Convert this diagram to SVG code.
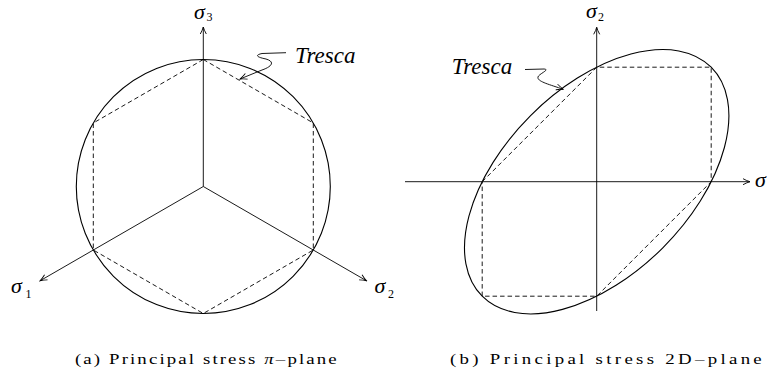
<svg xmlns="http://www.w3.org/2000/svg" width="767" height="379" viewBox="0 0 767 379">
<style>
.solid{fill:none;stroke:#000;stroke-width:1.1}
.axis{fill:none;stroke:#000;stroke-width:0.9}
.dash{fill:none;stroke:#000;stroke-width:0.9;stroke-dasharray:4.5 3}
.lead{fill:none;stroke:#000;stroke-width:0.9}
.math{font-family:"Liberation Serif","Times New Roman",serif;font-style:italic;fill:#000}
.sym{font-size:22px}
.sub{font-size:12px;font-style:normal}
.tr{font-size:23px}
.cap{font-family:"Liberation Serif","Times New Roman",serif;font-size:14.5px;fill:#000}
</style>
<defs>
<marker id="arr" viewBox="-8 -4 9 8" refX="0" refY="0" markerWidth="9" markerHeight="8" orient="auto" markerUnits="userSpaceOnUse">
<path d="M-7,-3 Q-3,-0.8 0,0 Q-3,0.8 -7,3" fill="none" stroke="#000" stroke-width="0.9"/>
</marker>
</defs>
<rect width="767" height="379" fill="#fff"/>

<g id="panel-a">
<g id="vonmises-circle"><circle class="solid" cx="203.3" cy="186.5" r="127"/></g>
<g id="tresca-hexagon"><path class="dash" d="M203.3,59.5 L313.3,123 L313.3,250 L203.3,313.5 L93.3,250 L93.3,123 Z"/></g>
<g id="label-s3"><text class="math sym" x="194" y="18.8">σ</text><text class="math sub" x="206.5" y="21">3</text></g>
<g id="label-s1"><text class="math sym" x="11" y="293.3">σ</text><text class="math sub" x="25.5" y="297.5">1</text></g>
<g id="label-s2a"><text class="math sym" x="374.5" y="293.3">σ</text><text class="math sub" x="388" y="297.5">2</text></g>
<g id="label-tresca-a"><text class="math tr" x="295" y="62.5">Tresca</text></g>
</g>

<g id="panel-b">
<g id="vonmises-ellipse"><ellipse class="solid" cx="596.7" cy="181.7" rx="161.9" ry="93.5" transform="rotate(-45 596.7 181.7)"/></g>
<g id="tresca-hex-b"><path class="dash" d="M482.2,181.7 L596.7,67.2 L711.2,67.2 L711.2,181.7 L596.7,296.2 L482.2,296.2 Z"/></g>
<g id="label-s2b"><text class="math sym" x="586" y="17.5">σ</text><text class="math sub" x="598" y="21">2</text></g>
<g id="label-s1b"><text class="math sym" x="755" y="186.7">σ</text></g>
<g id="label-tresca-b"><text class="math tr" x="451.7" y="74">Tresca</text></g>
</g>

<g id="connectors">
<path class="axis" d="M203.3,186.5 L203.3,27" marker-end="url(#arr)"/>
<path class="axis" d="M203.3,186.5 L40,280.8" marker-end="url(#arr)"/>
<path class="axis" d="M203.3,186.5 L366.6,280.8" marker-end="url(#arr)"/>
<path class="axis" d="M405,181.7 L750,181.7" marker-end="url(#arr)"/>
<path class="axis" d="M596.7,311 L596.7,27.3" marker-end="url(#arr)"/>
<path class="lead" d="M286,52.7 L262,53.5 C255,55 256,57 266,59 C276,62 271,67 262,70 L240,79" marker-end="url(#arr)"/>
<path class="lead" d="M525,69.5 L544,69 C550,69.5 541,73 538.5,76 C535,81 548,84 563.3,89.3" marker-end="url(#arr)"/>
</g>

<g id="captions">
<text class="cap" transform="scale(1.3,1)" x="57.69" y="364.5" textLength="201.3" lengthAdjust="spacing">(a) Principal stress <tspan font-style="italic">π</tspan>–plane</text>
<text class="cap" transform="scale(1.3,1)" x="346.15" y="364.5" textLength="239.8" lengthAdjust="spacing">(b) Principal stress 2D–plane</text>
</g>
</svg>
